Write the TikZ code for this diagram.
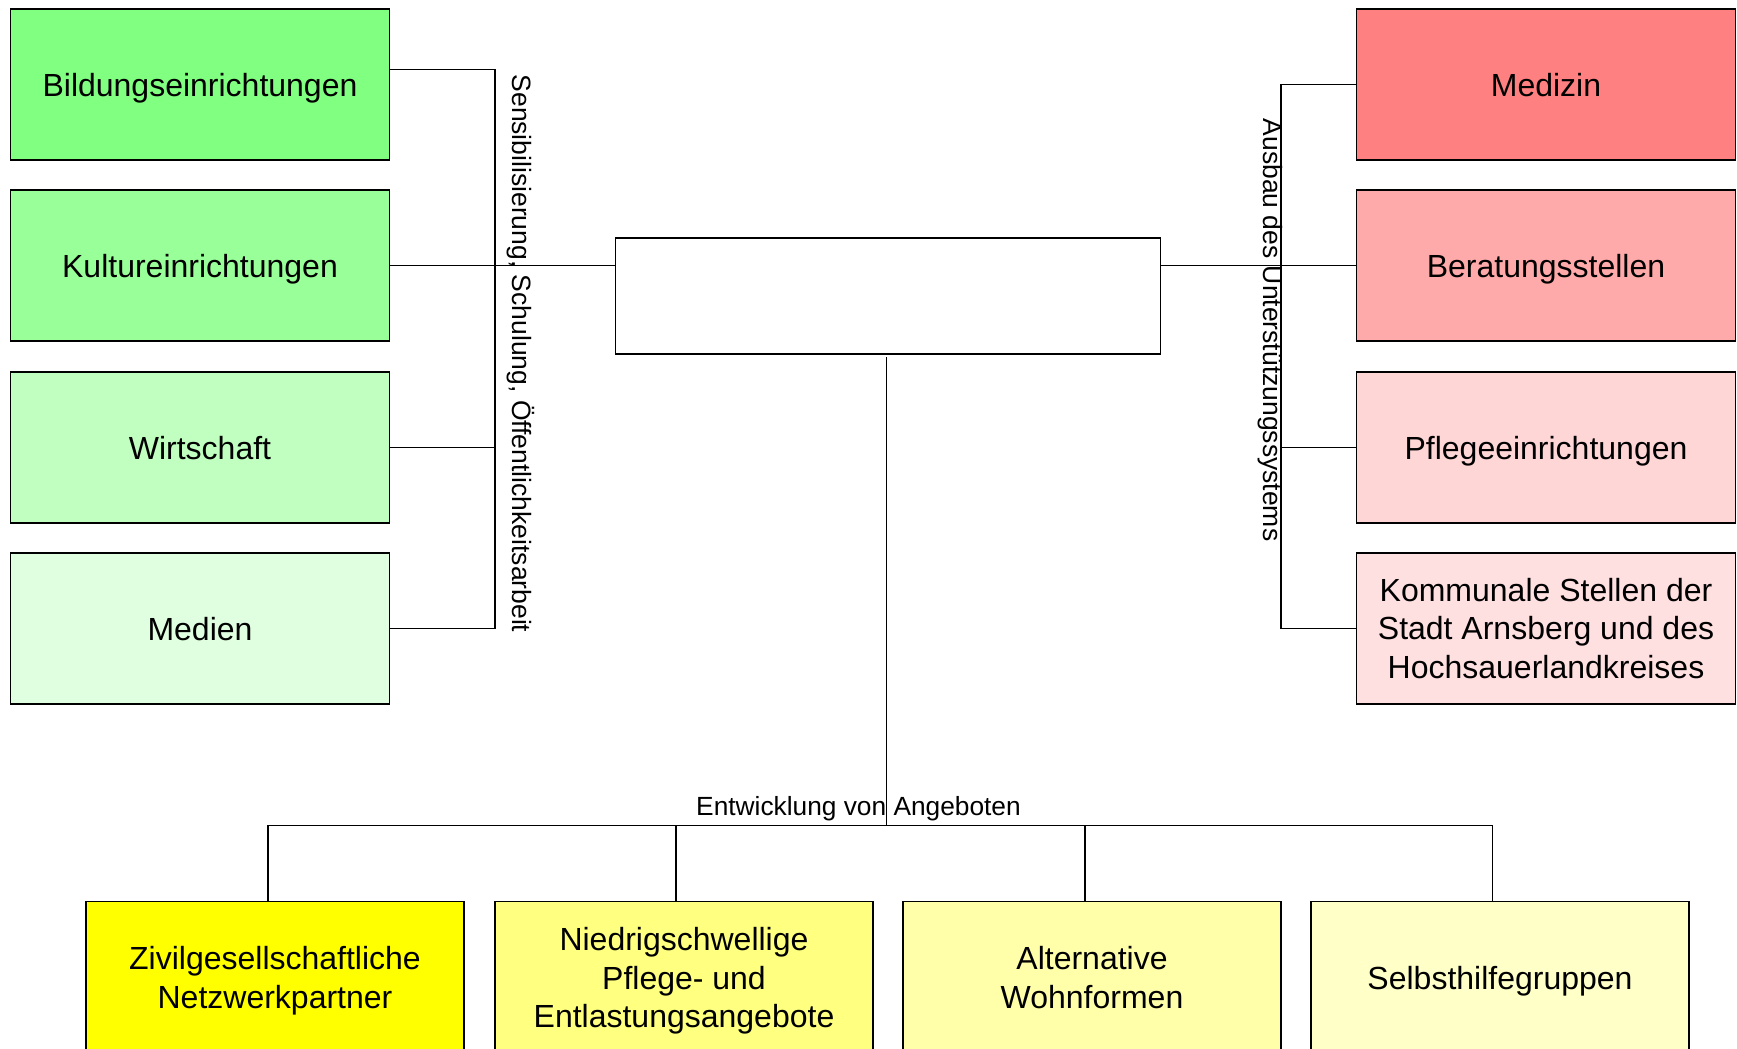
\documentclass[tikz,border=0pt]{standalone}
\usepackage{fontspec}
\setmainfont{Liberation Sans}
\usetikzlibrary{calc}
\definecolor{cBild}{HTML}{80FF80}
\definecolor{cKult}{HTML}{99FF99}
\definecolor{cWirt}{HTML}{C0FFC0}
\definecolor{cMed}{HTML}{E0FFE0}
\definecolor{cMedz}{HTML}{FF8080}
\definecolor{cBer}{HTML}{FFAAAA}
\definecolor{cPfl}{HTML}{FFD6D6}
\definecolor{cKom}{HTML}{FFE0E0}
\definecolor{cZiv}{HTML}{FFFF00}
\definecolor{cNie}{HTML}{FFFF80}
\definecolor{cAlt}{HTML}{FFFFAA}
\definecolor{cSel}{HTML}{FFFFC8}
\tikzset{
  orgbox/.style={draw=black, line width=1.7pt, minimum width=379pt, minimum height=151pt,
    inner sep=0pt, align=center, font=\fontsize{32}{38.6}\selectfont},
  oneline/.style={text height=23pt, text depth=0pt},
  bottombox/.style={orgbox, minimum width=378pt, minimum height=158.6pt, anchor=north},
  centerbox/.style={draw=black, line width=1.6pt, minimum width=545pt, minimum height=116pt, inner sep=0pt},
  conn/.style={draw=black, line width=1.3pt},
  sidelabel/.style={font=\fontsize{26.5}{30}\selectfont, inner sep=0pt, rotate=-90, anchor=base},
  barlabel/.style={font=\fontsize{26.3}{30}\selectfont, inner sep=0pt, anchor=base}
}
\begin{document}
\begin{tikzpicture}[x=1pt,y=-1pt]
\useasboundingbox (0,0) rectangle (1737,1049);
\clip (0,0) rectangle (1737,1049);
% left boxes
\node[orgbox, oneline, fill=cBild] (bild) at (200,84.5) {Bildungseinrichtungen};
\node[orgbox, oneline, fill=cKult] (kult) at (200,265.5) {Kultureinrichtungen};
\node[orgbox, oneline, fill=cWirt] (wirt) at (200,447.5) {Wirtschaft};
\node[orgbox, oneline, fill=cMed] (medien) at (200,628.5) {Medien};
% right boxes
\node[orgbox, oneline, fill=cMedz] (medizin) at (1546,84.5) {Medizin};
\node[orgbox, oneline, fill=cBer] (berat) at (1546,265.5) {Beratungsstellen};
\node[orgbox, oneline, fill=cPfl] (pflege) at (1546,447.5) {Pflegeeinrichtungen};
\node[orgbox, fill=cKom] (kommunal) at (1546,628.5) {Kommunale Stellen der\\Stadt Arnsberg und des\\Hochsauerlandkreises};
% center
\node[centerbox] (center) at (888,295.7) {};
% bottom boxes (their lower edges lie below the picture)
\node[bottombox, fill=cZiv] (ziv) at (275,900.7) {Zivilgesellschaftliche\\Netzwerkpartner};
\node[bottombox, fill=cNie] (nie) at (684,900.7) {Niedrigschwellige\\Pflege- und\\Entlastungsangebote};
\node[bottombox, minimum height=152pt, fill=cAlt] (alt) at (1092,900.7) {Alternative\\Wohnformen};
\node[bottombox, oneline, minimum height=152pt, fill=cSel] (sel) at (1500,900.7) {Selbsthilfegruppen};
% spines
\coordinate (lspine) at (495,0);
\coordinate (rspine) at (1281,0);
\coordinate (bar) at (0,825.7);
\coordinate (cdrop) at (886.7,357.3);
% left bracket
\draw[conn] ([yshift=15pt]bild.east) -- ([yshift=15pt]bild.east -| lspine) -- (medien.east -| lspine) -- (medien.east);
\draw[conn] (wirt.east) -- (wirt.east -| lspine);
\draw[conn] (kult.east) -- (kult.east -| center.west);
% right bracket
\draw[conn] (medizin.west) -- (medizin.west -| rspine) -- (kommunal.west -| rspine) -- (kommunal.west);
\draw[conn] (pflege.west) -- (pflege.west -| rspine);
\draw[conn] (berat.west) -- (berat.west -| center.east);
% bottom
\draw[conn] (cdrop) -- (cdrop |- bar);
\coordinate (zt) at (268,900.7);
\coordinate (nt) at (676,900.7);
\coordinate (at) at (1085,900.7);
\coordinate (st) at (1492.6,900.7);
\draw[conn] (zt) -- (zt |- bar) -- (st |- bar) -- (st);
\draw[conn] (nt) -- (nt |- bar);
\draw[conn] (at) -- (at |- bar);
% labels
\node[sidelabel] (llab) at (512.5,353.5) {Sensibilisierung, Schulung, Öffentlichkeitsarbeit};
\node[sidelabel] (rlab) at (1263,330) {Ausbau des Unterstützungssystems};
\node[barlabel] (blab) at (858.5,815) {Entwicklung von Angeboten};
\end{tikzpicture}
\end{document}
